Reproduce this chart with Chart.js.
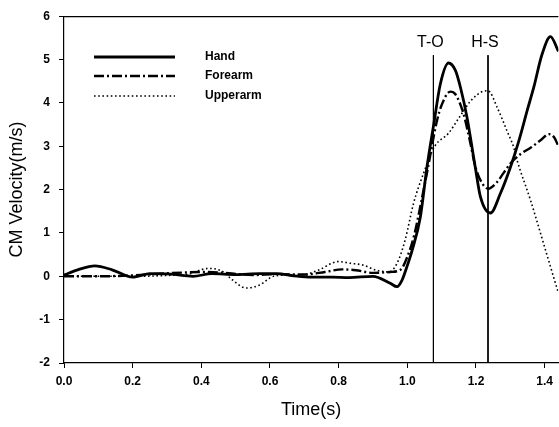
<!doctype html>
<html lang="en">
<head>
  <meta charset="utf-8">
  <title>CM Velocity</title>
  <script src="https://cdn.jsdelivr.net/npm/chart.js"></script>
  <style>
    html, body {
      margin: 0;
      padding: 0;
      background: #ffffff;
    }
    #velChart {
      display: block;
    }
  </style>
</head>
<body>
  <canvas id="velChart" width="559" height="427"></canvas>

  <script>
    // segment centre-of-mass speed: time (s) and velocity (m/s)
    const handT = [0, 0.04, 0.09, 0.14, 0.2, 0.25, 0.31, 0.376, 0.43, 0.5, 0.57, 0.62, 0.67, 0.72, 0.78, 0.83, 0.9, 0.95, 0.97, 0.985, 1.0, 1.014, 1.038, 1.057, 1.077, 1.096, 1.12, 1.14, 1.155, 1.174, 1.198, 1.213, 1.242, 1.271, 1.30, 1.325, 1.35, 1.368, 1.392, 1.417, 1.44];
    const handV = [0.03, 0.15, 0.24, 0.15, -0.02, 0.06, 0.05, 0.0, 0.06, 0.04, 0.06, 0.06, 0.01, -0.02, -0.02, -0.03, 0.0, -0.16, -0.24, -0.08, 0.25, 0.6, 1.37, 2.51, 3.51, 4.43, 4.92, 4.75, 4.35, 3.66, 2.51, 1.83, 1.46, 1.91, 2.51, 3.13, 3.85, 4.35, 5.11, 5.53, 5.19];

    const foreT = [0, 0.1, 0.2, 0.3, 0.42, 0.48, 0.55, 0.62, 0.7, 0.76, 0.81, 0.85, 0.9, 0.95, 0.98, 1.0, 1.02, 1.04, 1.06, 1.086, 1.1, 1.125, 1.14, 1.164, 1.18, 1.2, 1.22, 1.236, 1.261, 1.28, 1.30, 1.33, 1.36, 1.39, 1.412, 1.428, 1.44];
    const foreV = [0.0, 0.0, 0.02, 0.07, 0.1, 0.07, 0.03, 0.05, 0.04, 0.1, 0.16, 0.14, 0.08, 0.1, 0.15, 0.45, 0.95, 1.7, 2.5, 3.58, 3.95, 4.26, 4.2, 3.74, 3.2, 2.48, 2.12, 2.02, 2.17, 2.38, 2.6, 2.82, 2.97, 3.15, 3.28, 3.2, 3.0];

    const upperT = [0, 0.1, 0.2, 0.3, 0.36, 0.42, 0.46, 0.49, 0.53, 0.57, 0.61, 0.66, 0.7, 0.74, 0.8, 0.834, 0.87, 0.91, 0.945, 0.97, 0.994, 1.018, 1.047, 1.08, 1.12, 1.15, 1.184, 1.222, 1.235, 1.262, 1.29, 1.31, 1.32, 1.359, 1.388, 1.417, 1.44];
    const upperV = [0.0, 0.0, 0.0, 0.02, 0.05, 0.18, 0.12, -0.08, -0.27, -0.2, 0.0, 0.03, 0.04, 0.14, 0.34, 0.3, 0.26, 0.14, 0.1, 0.3, 0.85, 1.68, 2.37, 3.0, 3.3, 3.65, 4.04, 4.27, 4.28, 3.89, 3.36, 2.97, 2.67, 1.75, 0.99, 0.22, -0.38];

    // take-off and heel-strike markers
    const eventTimes = [1.076, 1.235];
    const eventNames = ["T-O", "H-S"];
    const eventTop = 5.1;

    const xTicks = [0, 0.2, 0.4, 0.6, 0.8, 1.0, 1.2, 1.4];
    const yTicks = [-2, -1, 0, 1, 2, 3, 4, 5, 6];

    const fontFam = "'Liberation Sans', Arial, sans-serif";

    function pts(ts, vs) {
      return ts.map((t, i) => ({ x: t, y: vs[i] }));
    }

    const series = [
      { label: "Hand", data: pts(handT, handV), borderWidth: 2.8, borderDash: [] },
      { label: "Forearm", data: pts(foreT, foreV), borderWidth: 2.4, borderDash: [10, 3, 2, 3] },
      { label: "Upperarm", data: pts(upperT, upperV), borderWidth: 1.6, borderDash: [1.6, 2.6] }
    ];

    const datasets = series.map(s => ({
      label: s.label,
      data: s.data,
      borderColor: "#000",
      borderWidth: s.borderWidth,
      borderDash: s.borderDash,
      pointRadius: 0,
      fill: false,
      cubicInterpolationMode: "monotone"
    }));

    eventTimes.forEach((t, i) => {
      datasets.push({
        label: eventNames[i],
        data: [{ x: t, y: eventTop }, { x: t, y: -2 }],
        borderColor: "#000",
        borderWidth: 1,
        pointRadius: 0,
        fill: false
      });
    });

    // top border of the plot box
    const frame = {
      id: "frame",
      afterDraw(chart) {
        const { ctx, chartArea } = chart;
        ctx.save();
        ctx.strokeStyle = "#000";
        ctx.lineWidth = 1.2;
        ctx.beginPath();
        ctx.moveTo(chartArea.left, chartArea.top + 0.5);
        ctx.lineTo(chartArea.right, chartArea.top + 0.5);
        ctx.stroke();
        ctx.restore();
      }
    };

    // legend inside the plot, upper left
    const insetLegend = {
      id: "insetLegend",
      afterDraw(chart) {
        const { ctx } = chart;
        const x0 = 94, x1 = 175, tx = 205;
        const rows = [57, 76, 96];
        ctx.save();
        series.forEach((s, i) => {
          const y = rows[i];
          ctx.strokeStyle = "#000";
          ctx.lineWidth = s.borderWidth;
          ctx.setLineDash(s.borderDash);
          ctx.beginPath();
          ctx.moveTo(x0, y);
          ctx.lineTo(x1, y);
          ctx.stroke();
          ctx.setLineDash([]);
          ctx.fillStyle = "#000";
          ctx.font = "bold 12px " + fontFam;
          ctx.textBaseline = "middle";
          ctx.textAlign = "left";
          ctx.fillText(s.label, tx, y);
        });
        ctx.restore();
      }
    };

    // names above the event lines
    const eventLabels = {
      id: "eventLabels",
      afterDraw(chart) {
        const { ctx, scales } = chart;
        ctx.save();
        ctx.fillStyle = "#000";
        ctx.font = "16px " + fontFam;
        ctx.textAlign = "center";
        ctx.textBaseline = "bottom";
        eventTimes.forEach((t, i) => {
          const px = scales.x.getPixelForValue(t);
          const py = scales.y.getPixelForValue(eventTop);
          ctx.fillText(eventNames[i], px - 3, py - 5);
        });
        ctx.restore();
      }
    };

    new Chart(document.getElementById("velChart"), {
      type: "line",
      data: { datasets: datasets },
      options: {
        responsive: false,
        animation: false,
        devicePixelRatio: 1,
        layout: { padding: { top: 12, right: 0, left: 0, bottom: 0 } },
        plugins: {
          legend: { display: false },
          tooltip: { enabled: false }
        },
        scales: {
          x: {
            type: "linear",
            min: 0,
            max: 1.44,
            afterBuildTicks: scale => { scale.ticks = xTicks.map(v => ({ value: v })); },
            afterFit: scale => { scale.height = 64; },
            ticks: {
              color: "#000",
              font: { family: fontFam, size: 12, weight: "bold" },
              padding: 6,
              maxRotation: 0,
              callback: v => v.toFixed(1)
            },
            grid: { drawOnChartArea: false, color: "#000", tickLength: 5, tickWidth: 1 },
            border: { display: true, color: "#000", width: 1.2 },
            title: {
              display: true,
              text: "Time(s)",
              color: "#000",
              font: { family: fontFam, size: 18 },
              padding: { top: 0, bottom: 6 }
            }
          },
          y: {
            min: -2,
            max: 6,
            afterBuildTicks: scale => { scale.ticks = yTicks.map(v => ({ value: v })); },
            afterFit: scale => { scale.width = 64; },
            ticks: {
              color: "#000",
              font: { family: fontFam, size: 12, weight: "bold" },
              padding: 9
            },
            grid: { drawOnChartArea: false, color: "#000", tickLength: 5, tickWidth: 1 },
            border: { display: true, color: "#000", width: 1.2 },
            title: {
              display: true,
              text: "CM Velocity(m/s)",
              color: "#000",
              font: { family: fontFam, size: 18 },
              padding: { top: 6, bottom: 0 }
            }
          }
        }
      },
      plugins: [frame, insetLegend, eventLabels]
    });
  </script>
</body>
</html>
